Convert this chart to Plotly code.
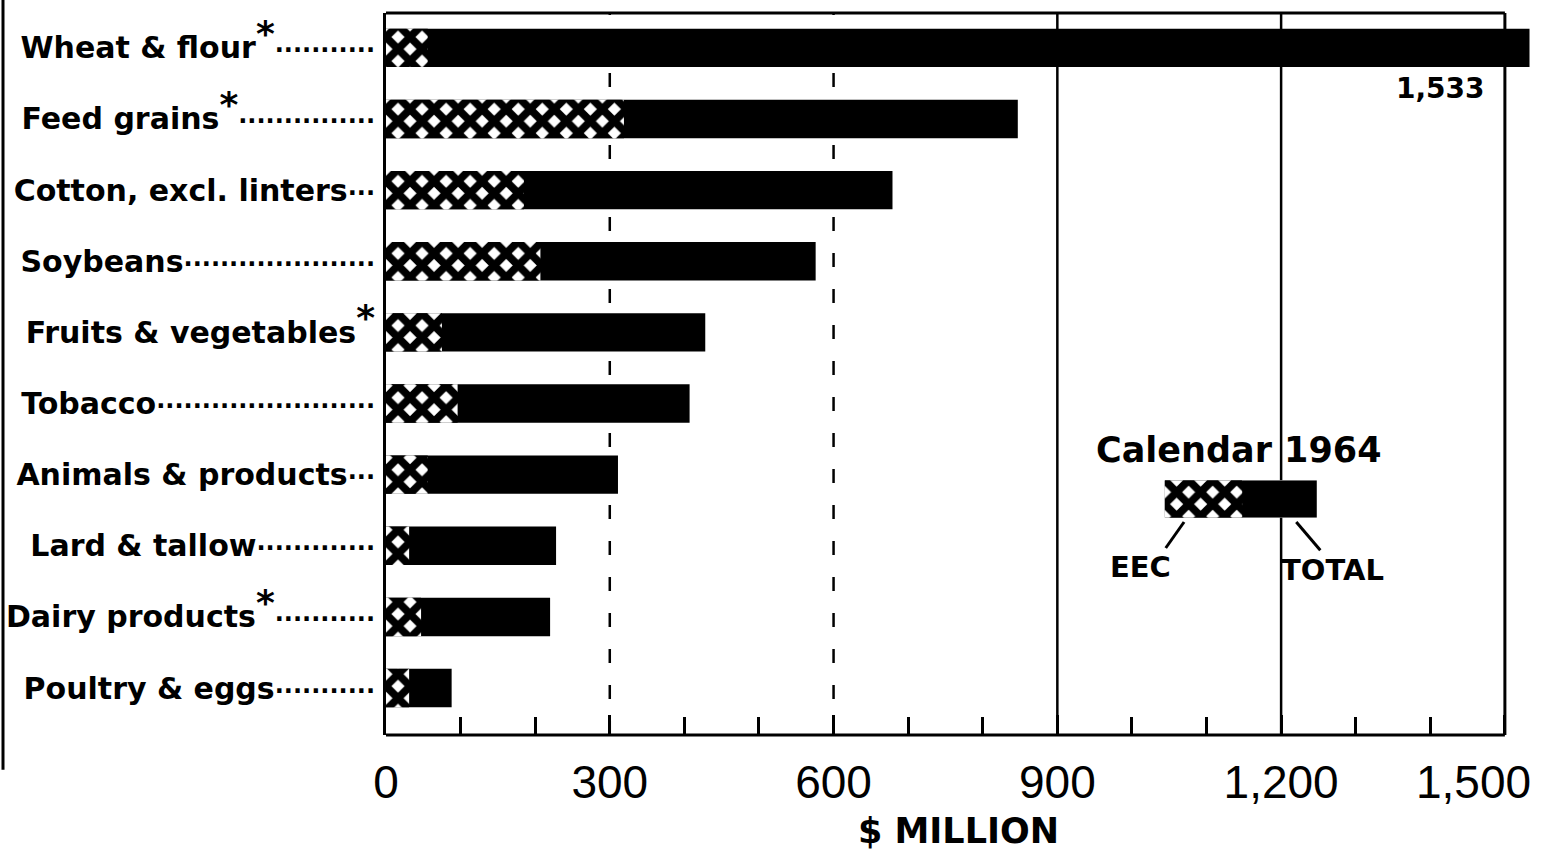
import plotly.graph_objects as go

# ---- data ----
CATEGORIES = ["Wheat & flour", "Feed grains", "Cotton, excl. linters", "Soybeans",
              "Fruits & vegetables", "Tobacco", "Animals & products", "Lard & tallow",
              "Dairy products", "Poultry & eggs"]
STARRED = [True, True, False, False, True, False, False, False, True, False]
LEADER_DOTS = [11, 15, 3, 21, 0, 24, 3, 13, 11, 11]
TOTAL = [1533, 847, 679, 576, 428, 407, 311, 228, 220, 88]
EEC = [56, 319, 185, 207, 75, 96, 56, 31, 47, 31]
X_TICKS = [0, 300, 600, 900, 1200, 1500]
X_TICK_TEXT = ["0", "300", "600", "900", "1,200", "1,500"]
X_MINOR_STEP = 100
X_MAX = 1500
GRID_DASHED = [300, 600]
GRID_SOLID = [900, 1200]
TOTAL_LABEL = "1,533"
LEGEND_SAMPLE = [0.51, 1.0]   # EEC share, total (legend glyph)

LABEL_FONT = dict(family="DejaVu Sans", size=30, color="black", weight="bold")
NUM_FONT = dict(family="Liberation Sans", size=46, color="black")
HATCH = dict(shape="x", fgcolor="black", bgcolor="white", fgopacity=1,
             size=17, solidity=0.7, fillmode="replace")

def tick_label(name, star, dots):
    s = name
    if star:
        s += "<sup><span style='font-size:36px'>*</span></sup>"
    if dots:
        s += "<span style='font-size:24px'>" + "·" * dots + "</span>"
    return s

labels = [tick_label(c, s, d) for c, s, d in zip(CATEGORIES, STARRED, LEADER_DOTS)]
# last label sits left of its tick in the reference; drawn as an annotation below
tick_text = X_TICK_TEXT[:-1] + [""]

fig = go.Figure()
fig.add_trace(go.Bar(y=CATEGORIES, x=TOTAL, orientation="h", width=0.54,
                     marker=dict(color="black", line=dict(width=0)),
                     showlegend=False, hoverinfo="skip"))
fig.add_trace(go.Bar(y=CATEGORIES, x=EEC, orientation="h", width=0.54,
                     marker=dict(color="white", line=dict(width=0), pattern=HATCH),
                     showlegend=False, hoverinfo="skip"))

# legend glyph on its own small axes
fig.add_trace(go.Bar(y=[0.5], x=[LEGEND_SAMPLE[1]], orientation="h", width=1,
                     xaxis="x2", yaxis="y2",
                     marker=dict(color="black", line=dict(width=0)),
                     showlegend=False, hoverinfo="skip"))
fig.add_trace(go.Bar(y=[0.5], x=[LEGEND_SAMPLE[0]], orientation="h", width=1,
                     xaxis="x2", yaxis="y2",
                     marker=dict(color="white", line=dict(width=0), pattern=HATCH),
                     showlegend=False, hoverinfo="skip"))

shapes = []
for v in GRID_DASHED:
    shapes.append(dict(type="line", xref="x", yref="paper", x0=v, x1=v, y0=0, y1=1,
                       line=dict(color="black", width=2.5, dash="14px,22px"), layer="below"))
for v in GRID_SOLID:
    shapes.append(dict(type="line", xref="x", yref="paper", x0=v, x1=v, y0=0, y1=1,
                       line=dict(color="black", width=2.5), layer="below"))
# frame: top, right, bottom (ending at the last tick)
shapes.append(dict(type="line", xref="x", yref="paper", x0=0, x1=X_MAX, y0=1, y1=1,
                   line=dict(color="black", width=3), layer="below"))
shapes.append(dict(type="line", xref="x", yref="paper", x0=X_MAX, x1=X_MAX, y0=0, y1=1,
                   line=dict(color="black", width=3), layer="below"))
shapes.append(dict(type="line", xref="x", yref="paper", x0=0, x1=X_MAX, y0=0, y1=0,
                   line=dict(color="black", width=3)))
# legend connectors
shapes.append(dict(type="line", xref="paper", yref="paper", x0=0.697, y0=0.295,
                   x1=0.681, y1=0.259, line=dict(color="black", width=3)))
shapes.append(dict(type="line", xref="paper", yref="paper", x0=0.795, y0=0.295,
                   x1=0.816, y1=0.256, line=dict(color="black", width=3)))
# page edge seen in the scan
shapes.append(dict(type="line", xref="paper", yref="paper", x0=-0.3345, x1=-0.3345,
                   y0=-0.048, y1=1.02, line=dict(color="black", width=3)))

annotations = [
    dict(x=X_MAX, y=CATEGORIES[0], xref="x", yref="y", text=TOTAL_LABEL,
         showarrow=False, xanchor="right", yanchor="top", xshift=-18, yshift=-22,
         font=dict(family="DejaVu Sans", size=28, color="black", weight="bold")),
    dict(x=X_TICKS[-1], y=0, xref="x", yref="paper", text=X_TICK_TEXT[-1],
         showarrow=False, xanchor="right", yanchor="top", xshift=28, yshift=-19,
         font=NUM_FONT),
    dict(x=0.745, y=0.395, xref="paper", yref="paper", text="Calendar 1964",
         showarrow=False, xanchor="center", yanchor="middle",
         font=dict(family="DejaVu Sans", size=35, color="black", weight="bold")),
    dict(x=0.659, y=0.233, xref="paper", yref="paper", text="EEC",
         showarrow=False, xanchor="center", yanchor="middle",
         font=dict(family="DejaVu Sans", size=29, color="black", weight="bold")),
    dict(x=0.827, y=0.229, xref="paper", yref="paper", text="TOTAL",
         showarrow=False, xanchor="center", yanchor="middle",
         font=dict(family="DejaVu Sans", size=29, color="black", weight="bold")),
]

fig.update_layout(
    width=1554, height=857,
    margin=dict(l=386, r=23, t=13, b=122, autoexpand=False),
    paper_bgcolor="white", plot_bgcolor="white",
    barmode="overlay", showlegend=False,
    shapes=shapes, annotations=annotations,
    xaxis=dict(range=[0, 1535], tickvals=X_TICKS, ticktext=tick_text,
               showgrid=False, zeroline=False, showline=False, automargin=False,
               ticks="inside", ticklen=20, tickwidth=2.5, tickcolor="black",
               minor=dict(tick0=0, dtick=X_MINOR_STEP, ticks="inside", ticklen=18,
                          tickwidth=2.5, tickcolor="black", showgrid=False),
               tickfont=NUM_FONT,
               ticklabelstandoff=16, ticklabeloverflow="allow",
               title=dict(text="$ MILLION", standoff=11,
                          font=dict(family="DejaVu Sans", size=35, color="black",
                                    weight="bold"))),
    yaxis=dict(tickmode="array", tickvals=CATEGORIES, ticktext=labels,
               categoryorder="array", categoryarray=CATEGORIES,
               range=[9.66, -0.49], showgrid=False, zeroline=False, automargin=False,
               showline=True, mirror=False, linecolor="black", linewidth=3,
               ticks="", tickfont=LABEL_FONT, ticklabelstandoff=2),
    xaxis2=dict(domain=[0.68, 0.813], range=[0, 1], visible=False, anchor="y2"),
    yaxis2=dict(domain=[0.301, 0.353], range=[0, 1], visible=False, anchor="x2"),
)

fig.write_html("out.html", config={"displayModeBar": False},
               post_script="document.body.style.margin='0';")
